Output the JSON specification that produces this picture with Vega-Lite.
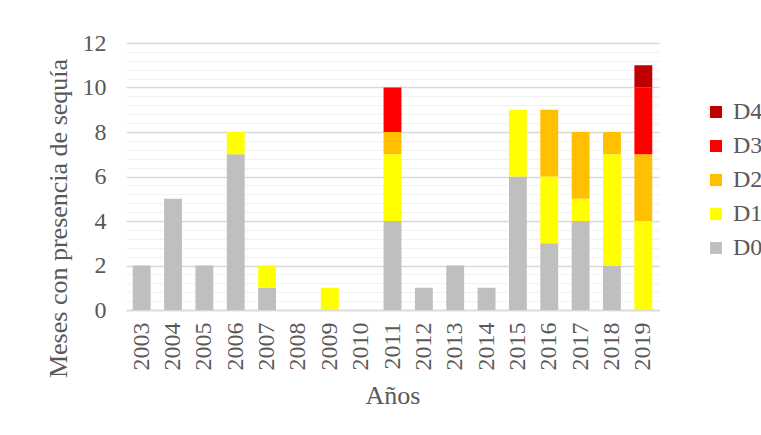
{
  "$schema": "https://vega.github.io/schema/vega-lite/v6.json",
  "width": 533,
  "height": 267,
  "autosize": {"type": "none"},
  "padding": {"left": 126, "top": 43, "right": 102, "bottom": 125},
  "background": "white",
  "config": {"view": {"stroke": null}, "font": "Liberation Serif", "axis": {"labelFont": "Liberation Serif", "titleFont": "Liberation Serif"}, "legend": {"labelFont": "Liberation Serif", "padding": 0}},
  "data": {"values": [
    {"year": "2003", "cat": "D0", "months": 2},
    {"year": "2004", "cat": "D0", "months": 5},
    {"year": "2005", "cat": "D0", "months": 2},
    {"year": "2006", "cat": "D0", "months": 7},
    {"year": "2006", "cat": "D1", "months": 1},
    {"year": "2007", "cat": "D0", "months": 1},
    {"year": "2007", "cat": "D1", "months": 1},
    {"year": "2009", "cat": "D1", "months": 1},
    {"year": "2011", "cat": "D0", "months": 4},
    {"year": "2011", "cat": "D1", "months": 3},
    {"year": "2011", "cat": "D2", "months": 1},
    {"year": "2011", "cat": "D3", "months": 2},
    {"year": "2012", "cat": "D0", "months": 1},
    {"year": "2013", "cat": "D0", "months": 2},
    {"year": "2014", "cat": "D0", "months": 1},
    {"year": "2015", "cat": "D0", "months": 6},
    {"year": "2015", "cat": "D1", "months": 3},
    {"year": "2016", "cat": "D0", "months": 3},
    {"year": "2016", "cat": "D1", "months": 3},
    {"year": "2016", "cat": "D2", "months": 3},
    {"year": "2017", "cat": "D0", "months": 4},
    {"year": "2017", "cat": "D1", "months": 1},
    {"year": "2017", "cat": "D2", "months": 3},
    {"year": "2018", "cat": "D0", "months": 2},
    {"year": "2018", "cat": "D1", "months": 5},
    {"year": "2018", "cat": "D2", "months": 1},
    {"year": "2019", "cat": "D1", "months": 4},
    {"year": "2019", "cat": "D2", "months": 3},
    {"year": "2019", "cat": "D3", "months": 3},
    {"year": "2019", "cat": "D4", "months": 1}
  ]},
  "mark": {"type": "bar"},
  "encoding": {
    "x": {
      "field": "year",
      "type": "ordinal",
      "scale": {
        "domain": ["2003","2004","2005","2006","2007","2008","2009","2010","2011","2012","2013","2014","2015","2016","2017","2018","2019"],
        "paddingInner": 0.43,
        "paddingOuter": 0.215
      },
      "axis": {
        "title": "Años",
        "labelAngle": -90,
        "labelFont": "Liberation Serif",
        "labelFontSize": 24,
        "labelColor": "#595959",
        "labelPadding": 12,
        "ticks": false,
        "domain": true,
        "domainColor": "#D9D9D9",
        "domainWidth": 1.5,
        "titleFont": "Liberation Serif",
        "titleFontSize": 26,
        "titleFontWeight": "normal",
        "titleColor": "#595959",
        "titlePadding": 12
      }
    },
    "y": {
      "field": "months",
      "type": "quantitative",
      "stack": "zero",
      "scale": {"domain": [0, 12], "nice": false},
      "axis": {
        "title": "Meses con presencia de sequía",
        "values": [0,0.4,0.8,1.2,1.6,2,2.4,2.8,3.2,3.6,4,4.4,4.8,5.2,5.6,6,6.4,6.8,7.2,7.6,8,8.4,8.8,9.2,9.6,10,10.4,10.8,11.2,11.6,12],
        "labelExpr": "datum.value % 2 === 0 ? format(datum.value, 'd') : ''",
        "labelFont": "Liberation Serif",
        "labelFontSize": 24,
        "labelColor": "#595959",
        "labelPadding": 20,
        "ticks": false,
        "domain": false,
        "grid": true,
        "gridColor": {"condition": {"test": "datum.value % 2 === 0", "value": "#D9D9D9"}, "value": "#F2F2F2"},
        "gridWidth": {"condition": {"test": "datum.value % 2 === 0", "value": 1.5}, "value": 1.2},
        "titleFont": "Liberation Serif",
        "titleFontSize": 26,
        "titleFontWeight": "normal",
        "titleColor": "#595959",
        "titleX": -60,
        "titleY": 175,
        "titleAngle": -90,
        "titleAlign": "center",
        "titleBaseline": "alphabetic"
      }
    },
    "color": {
      "field": "cat",
      "type": "nominal",
      "scale": {
        "domain": ["D4", "D3", "D2", "D1", "D0"],
        "range": ["#C00000", "#FF0000", "#FFC000", "#FFFF00", "#BFBFBF"]
      },
      "legend": {
        "orient": "none",
        "legendX": 578,
        "legendY": 57,
        "title": null,
        "symbolType": "square",
        "symbolSize": 144,
        "symbolStrokeWidth": 0,
        "labelFont": "Liberation Serif",
        "labelFontSize": 24,
        "labelColor": "#595959",
        "labelOffset": 5,
        "rowPadding": 10
      }
    },
    "order": {"field": "cat", "sort": "ascending"}
  }
}
